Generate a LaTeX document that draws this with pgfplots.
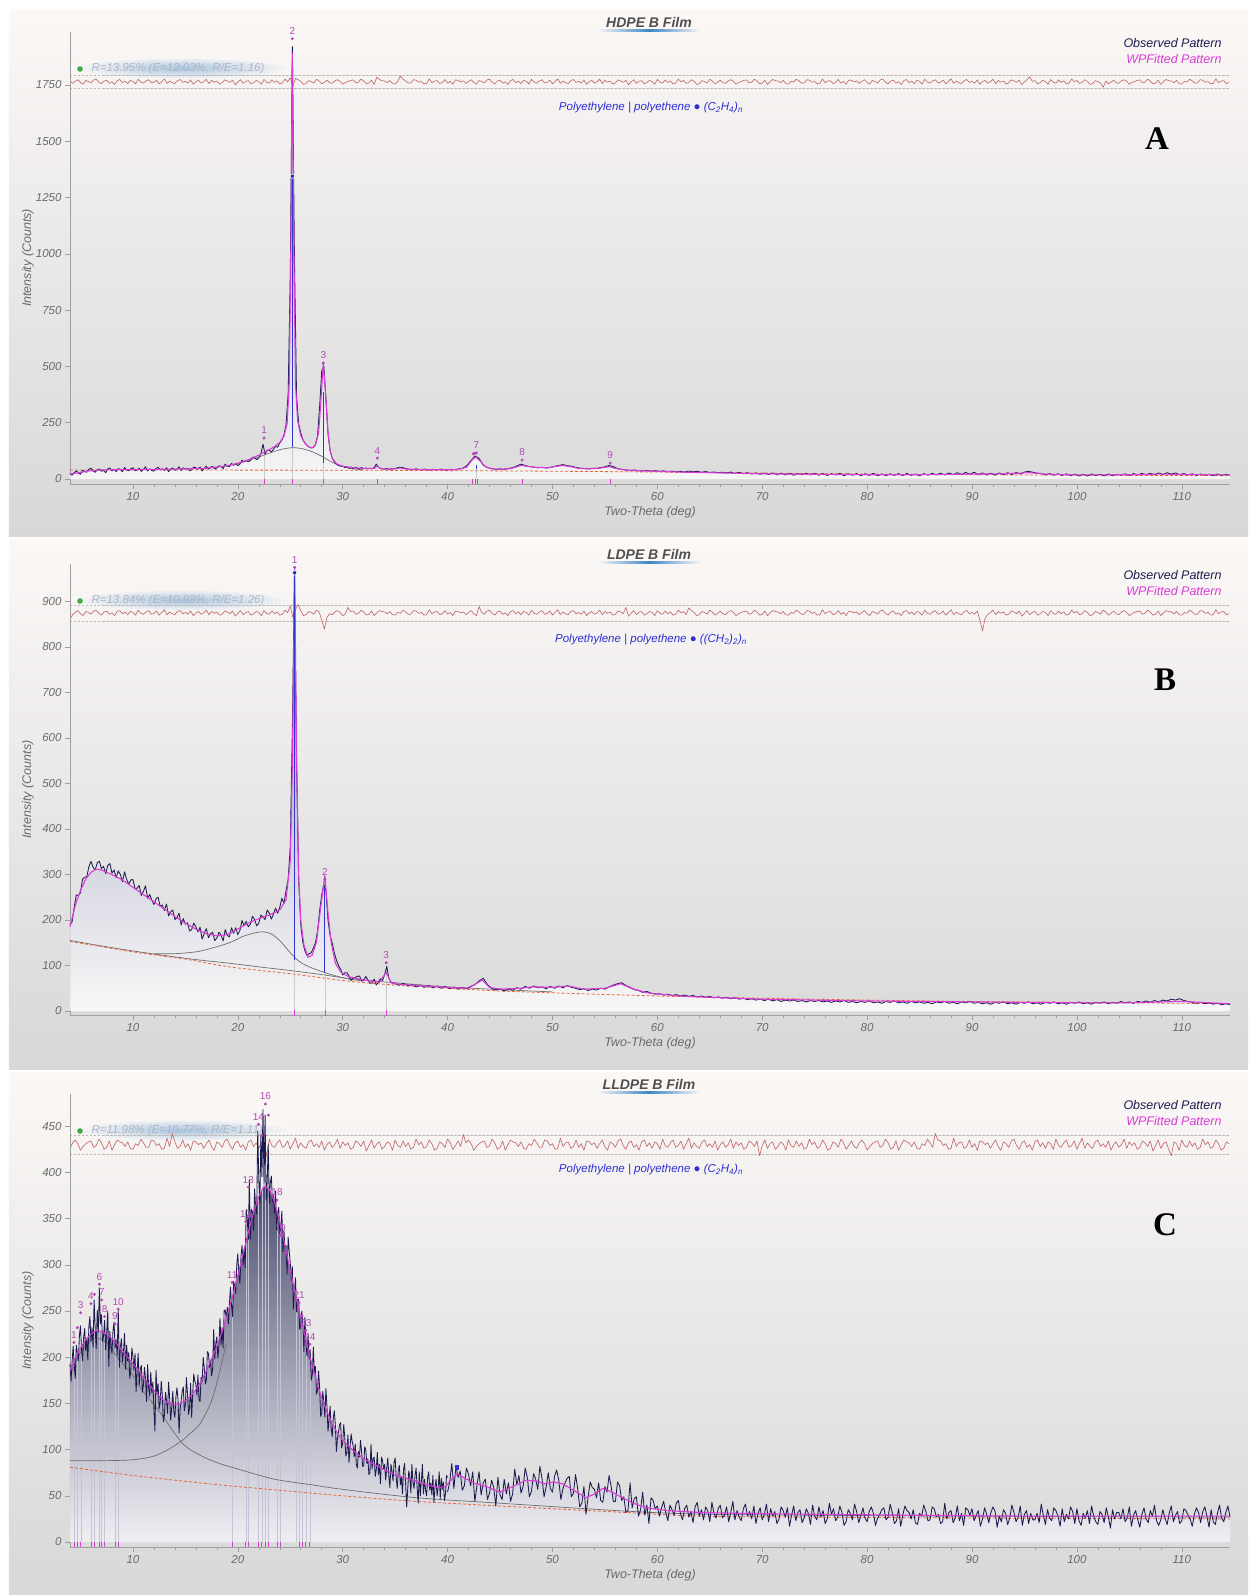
\documentclass[border=0pt]{standalone}
\usepackage{fontspec}
\setmainfont{Liberation Sans}
\newfontfamily\serifbold{Liberation Serif}
\usepackage{pgfplots}
\usepackage{pgfplotstable}
\pgfplotsset{compat=1.18}

\definecolor{obs}{HTML}{1C1B50}
\definecolor{fit}{HTML}{D93BD9}
\definecolor{resid}{HTML}{C26A6A}
\definecolor{tickgray}{HTML}{6A6A6A}
\definecolor{titlegray}{HTML}{505050}
\definecolor{phaseblue}{HTML}{2E2ED6}
\definecolor{peaklbl}{HTML}{B24AB8}
\definecolor{basel}{HTML}{E8643C}
\definecolor{comp}{HTML}{6E6E6E}
\definecolor{stickblue}{HTML}{3434D0}
\definecolor{uline}{HTML}{3E86C8}
\definecolor{glow}{HTML}{A9C6E0}
\definecolor{rtext}{HTML}{B0B5C4}
\definecolor{bgtop}{HTML}{FBF8F6}
\definecolor{bgmid}{HTML}{F0EEEC}
\definecolor{bgbot}{HTML}{D8D8D8}
\definecolor{fillA}{RGB}{140,145,185}
\definecolor{fillB}{RGB}{120,124,165}
\definecolor{fillC}{RGB}{60,64,100}
\definecolor{fillCb}{RGB}{242,241,246}
\definecolor{peakline}{RGB}{196,196,214}

\pgfplotsset{
  xrdbase/.style={
    scale only axis, width=1160pt,
    xmin=4, xmax=114.6, clip=false,
    axis lines=left,
    axis line style={-, draw=gray!75, line width=0.6pt},
    xtick={10,20,...,110}, minor x tick num=4,
    major tick length=5pt, minor tick length=3pt,
    tick style={draw=gray!75, line width=0.5pt},
    tick align=outside,
    ticklabel style={font=\fontsize{11.5}{13}\selectfont\itshape, text=tickgray},
    /pgf/number format/assume math mode=true,
    /pgf/number format/set thousands separator={},
    xlabel={Two-Theta (deg)}, ylabel={Intensity (Counts)},
    every axis x label/.style={at={(axis description cs:0.5,0)}, anchor=center, yshift=-28pt,
       font=\fontsize{12.5}{14}\selectfont\itshape, text=tickgray},
    every axis y label/.style={at={(axis description cs:0,0.5)}, xshift=-42pt, anchor=center, rotate=90,
       font=\fontsize{12.5}{14}\selectfont\itshape, text=tickgray},
  },
  resbase/.style={scale only axis, width=1160pt, xmin=4, xmax=114.6, hide axis, clip=false},
  obsline/.style={draw=obs, line width=0.85pt, line join=round},
  fitline/.style={draw=fit, line width=1.1pt, line join=round},
  compline/.style={draw=comp, line width=0.7pt, smooth},
  baseline/.style={draw=basel, line width=0.8pt, dash pattern=on 3pt off 2pt, smooth},
  resline/.style={draw=resid, line width=0.65pt, line join=round},
  resband/.style={draw=gray!55, line width=0.5pt, dash pattern=on 2.5pt off 1.5pt},
  phasetick/.style={only marks, mark=|, mark size=2.6pt, color=fit, mark options={line width=0.7pt}},
  peakdot/.style={only marks, mark=*, mark size=1.3pt, color=peaklbl, point meta=explicit symbolic,
    nodes near coords, nodes near coords style={font=\fontsize{10}{11}\selectfont, text=peaklbl, anchor=south, yshift=0.5pt}},
  peakdotonly/.style={only marks, mark=*, mark size=1.3pt, color=peaklbl},
}

\newcommand{\paneldeco}[5]{%
  \node[font=\fontsize{14}{16}\selectfont\bfseries\itshape, text=titlegray] at (579pt,10pt) {#1};
  \shade[left color=bgtop, right color=bgtop, middle color=uline] (527pt,2.2pt) rectangle (631pt,0.6pt);
  \node[anchor=east, font=\fontsize{12.5}{14}\selectfont\itshape, text=obs] at (1155pt,-11pt) {Observed Pattern};
  \node[anchor=east, font=\fontsize{12.5}{14}\selectfont\itshape, text=fit] at (1155pt,-27pt) {WPFitted Pattern};
  \shade[inner color=glow, outer color=bgtop] (112pt,-36pt) ellipse (112pt and 11pt);
  \fill[green!55!black!75] (10pt,-37pt) circle (2.8pt);
  \node[anchor=west, font=\fontsize{11.5}{13}\selectfont\itshape, text=rtext] at (18pt,-37pt) {#2};
  \node[font=\fontsize{11.5}{13}\selectfont\itshape, text=phaseblue] at (581pt,-76pt) {Polyethylene | polyethene ● #3};
  \node[font=\serifbold\fontsize{33}{36}\selectfont\bfseries] at #5 {#4};
}

% ---------- fitted patterns ----------
\pgfplotstableread[row sep=\\]{x y\\
4 22\\5 29\\6 37\\7 40\\8 41\\10 42\\12 43\\14 44\\16 46\\17 48\\18 53\\19 59\\20 70\\21 85\\22 106\\23 130\\23.6 147\\24 162\\24.4 190\\24.7 245\\24.9 420\\25.05 1000\\25.2 1890\\25.35 1000\\25.5 420\\25.7 260\\26 192\\26.4 158\\26.8 141\\27.1 138\\27.4 150\\27.7 205\\27.9 330\\28.15 515\\28.4 355\\28.6 205\\28.8 128\\29 93\\29.4 68\\30 56\\31 50\\32 47\\33 46\\33.3 58\\33.6 46\\34 44\\35 45\\35.5 49\\36 44\\37 42\\38 41\\40 41\\41 42\\41.8 52\\42.4 88\\42.7 97\\43.1 80\\43.6 55\\44.2 45\\45 43\\46 46\\47 60\\47.5 57\\48.5 51\\49.5 50\\50.5 57\\51 60\\51.8 54\\52.5 47\\53.5 45\\54.5 48\\55.4 55\\56 47\\57 40\\58 37\\60 34\\62 31\\65 28\\68 25\\70 23\\75 21\\80 19\\85 19\\90 22\\93 23\\95.5 28\\97 22\\100 18\\105 19\\108 22\\110 20\\114.6 18\\
}\fitA

\pgfplotstableread[row sep=\\]{x y\\
4 185\\4.5 232\\5 265\\5.5 290\\6 305\\6.5 312\\7 310\\8 300\\9 288\\10 272\\11 256\\12 240\\13 224\\14 208\\15 193\\16 180\\17 170\\18 165\\19 168\\20 180\\21 193\\22 203\\23 211\\24 222\\24.6 245\\25.0 330\\25.2 540\\25.42 975\\25.6 560\\25.8 300\\26.0 200\\26.3 145\\26.7 118\\27.1 123\\27.5 152\\27.9 228\\28.3 298\\28.6 215\\28.9 150\\29.3 105\\29.8 86\\30.5 76\\32 68\\33.5 63\\34.15 85\\34.6 62\\35 60\\37 56\\40 52\\42 50\\43.3 68\\44 52\\45 48\\47 50\\48 53\\50 52\\51.5 55\\53 48\\55 50\\56.5 60\\57.5 50\\59 40\\62 33\\65 30\\70 26\\75 24\\80 22\\85 21\\90 20\\95 19\\100 18\\105 18\\110 21\\114.6 16\\
}\fitB

\pgfplotstableread[row sep=\\]{x y\\
4 185\\4.4 197\\5 210\\5.5 219\\6 225\\6.5 229\\7 228\\7.5 225\\8 220\\8.5 214\\9 207\\9.5 200\\10 193\\10.5 186\\11 178\\11.5 171\\12 164\\12.5 158\\13 153\\13.5 150\\14 149\\14.5 150\\15 153\\15.5 158\\16 165\\16.5 174\\17 185\\17.5 198\\18 212\\18.5 228\\19 246\\19.5 266\\20 288\\20.5 312\\21 335\\21.5 357\\22 374\\22.5 385\\23 382\\23.5 368\\24 346\\24.5 320\\25 294\\25.5 268\\26 243\\26.5 218\\27 195\\27.5 174\\28 156\\28.5 141\\29 128\\29.5 118\\30 110\\31 99\\32 90\\33 84\\34 78\\35 73\\36 69\\37 66\\38 62\\39 59\\39.8 60\\40.4 68\\40.9 74\\41.5 70\\42.5 64\\43.7 60\\45 54\\46 59\\47.5 67\\48.5 66\\49.3 63\\50.1 65\\51 63\\52 56\\53.2 48\\54 52\\54.8 58\\55.5 55\\56.5 49\\57.7 42\\59 37\\61 34\\64 32\\68 31\\75 30\\85 29\\95 28\\105 28\\114.6 28\\
}\fitC

\begin{document}
\begin{tikzpicture}
\useasboundingbox (-70pt,32pt) rectangle (1178pt,-1563pt);
\fill[white] (-70pt,32pt) rectangle (1178pt,-1563pt);
\shade[top color=bgtop, middle color=bgmid, bottom color=bgbot] (-61pt,22pt) rectangle (1178pt,-504pt);
\shade[top color=bgtop, middle color=bgmid, bottom color=bgbot] (-61pt,-507pt) rectangle (1178pt,-1037pt);
\shade[top color=bgtop, middle color=bgmid, bottom color=bgbot] (-61pt,-1040pt) rectangle (1178pt,-1563pt);

\paneldeco{HDPE B Film}{R=13.95\% (E=12.03\%, R/E=1.16)}{(C\textsubscript{2}H\textsubscript{4})\textsubscript{n}}{A}{(1087pt,-107pt)}
\begin{scope}[yshift=-532pt]
\paneldeco{LDPE B Film}{R=13.84\% (E=10.98\%, R/E=1.26)}{((CH\textsubscript{2})\textsubscript{2})\textsubscript{n}}{B}{(1095pt,-116pt)}
\end{scope}
\begin{scope}[yshift=-1062pt]
\paneldeco{LLDPE B Film}{R=11.98\% (E=10.77\%, R/E=1.11)}{(C\textsubscript{2}H\textsubscript{4})\textsubscript{n}}{C}{(1095pt,-131pt)}
\end{scope}

% ================= residuals =================
\begin{axis}[resbase, at={(0pt,0pt)}, anchor=north west, height=452pt, ymin=-1786.2, ymax=221]
\addplot[resband] coordinates {(4,31)(114.6,31)};
\addplot[resband] coordinates {(4,-31)(114.6,-31)};
\addplot[resline] table[row sep=\\, header=false, x expr=4+0.25*\coordindex, y index=0]{
4\\-7\\2\\9\\-3\\-11\\6\\1\\-5\\8\\
12\\-2\\-9\\3\\7\\-6\\0\\-12\\5\\10\\
-4\\3\\-8\\6\\2\\-10\\11\\-1\\-6\\4\\
9\\-5\\-2\\7\\-9\\1\\13\\-7\\3\\-4\\
-8\\5\\10\\-3\\2\\-6\\8\\-11\\0\\6\\
-6\\0\\11\\-8\\6\\-2\\3\\-10\\-5\\8\\
4\\-3\\7\\-13\\-1\\9\\-7\\2\\5\\-9\\
-4\\6\\1\\-11\\10\\-2\\-6\\8\\-3\\4\\
-10\\-5\\12\\0\\18\\-20\\15\\9\\2\\-12\\
-8\\5\\1\\-6\\11\\3\\-9\\-2\\7\\-4\\
-7\\4\\9\\2\\-11\\-3\\1\\6\\8\\-5\\
-2\\12\\3\\-9\\-6\\7\\-12\\20\\10\\5\\
3\\-4\\6\\-8\\-10\\2\\25\\11\\4\\-6\\
-5\\9\\7\\-2\\1\\-9\\-7\\13\\-4\\3\\
5\\-8\\-3\\10\\-6\\2\\-11\\8\\6\\0\\
4\\-7\\2\\9\\-3\\-11\\6\\1\\-5\\8\\
12\\-2\\-9\\3\\7\\-6\\0\\-12\\5\\10\\
-4\\3\\-8\\6\\2\\-10\\11\\-1\\-6\\4\\
9\\-5\\-2\\7\\-9\\1\\13\\-7\\3\\-4\\
-8\\5\\10\\-3\\2\\-6\\8\\-11\\0\\6\\
-6\\0\\11\\-8\\6\\-2\\3\\-10\\-5\\8\\
4\\-3\\7\\-13\\-1\\9\\-7\\2\\5\\-9\\
-4\\6\\1\\-11\\10\\-2\\-6\\8\\-3\\4\\
-10\\-5\\12\\0\\6\\-7\\-3\\9\\2\\-12\\
-8\\5\\1\\-6\\11\\3\\-9\\-2\\7\\-4\\
-7\\4\\9\\2\\-11\\-3\\1\\6\\8\\-5\\
-2\\12\\3\\-9\\-6\\7\\-12\\0\\10\\5\\
3\\-4\\6\\-8\\-10\\2\\-1\\11\\4\\-6\\
-5\\9\\7\\-2\\1\\-9\\-7\\13\\-4\\3\\
5\\-8\\-3\\10\\-6\\2\\-11\\8\\6\\0\\
4\\-7\\2\\9\\-3\\-11\\6\\1\\-5\\8\\
12\\-2\\-9\\3\\7\\-6\\0\\-12\\5\\10\\
-4\\3\\-8\\6\\2\\-10\\11\\-1\\-6\\4\\
9\\-5\\-2\\7\\-9\\1\\13\\-7\\3\\-4\\
-8\\5\\10\\-3\\2\\-6\\8\\-11\\0\\6\\
-6\\0\\11\\-8\\6\\-2\\3\\-10\\-5\\8\\
4\\-3\\7\\-13\\-1\\9\\22\\2\\5\\-9\\
-4\\6\\1\\-11\\10\\-2\\-6\\8\\-3\\4\\
-10\\-5\\12\\0\\6\\-7\\-3\\9\\2\\-12\\
-8\\5\\1\\-6\\-25\\3\\-9\\-2\\7\\-4\\
-7\\4\\9\\2\\-11\\-3\\1\\6\\8\\-5\\
-2\\12\\3\\-9\\-6\\7\\-12\\0\\10\\5\\
3\\-4\\6\\-8\\-10\\2\\-1\\11\\4\\-6\\
-5\\9\\7\\-2\\1\\-9\\-7\\13\\-4\\3\\
5\\-8\\-3\\
};
\end{axis}

\begin{axis}[resbase, at={(0pt,-532pt)}, anchor=north west, height=451pt, ymin=-883.8, ymax=107.4]
\addplot[resband] coordinates {(4,17.5)(114.6,17.5)};
\addplot[resband] coordinates {(4,-17.5)(114.6,-17.5)};
\addplot[resline] table[row sep=\\, header=false, x expr=4+0.25*\coordindex, y index=0]{
-14\\-4\\1\\5\\-2\\-6\\3\\1\\-3\\4\\
6\\-1\\-5\\2\\4\\-3\\0\\-6\\3\\5\\
-2\\2\\-4\\3\\1\\-5\\6\\-1\\-3\\2\\
5\\-3\\-1\\4\\-5\\1\\7\\-4\\2\\-2\\
-4\\3\\5\\-2\\1\\-3\\4\\-6\\0\\3\\
-3\\0\\6\\-4\\3\\-1\\2\\-5\\-3\\4\\
2\\-2\\4\\-7\\-1\\5\\-4\\1\\3\\-5\\
-2\\3\\1\\-6\\5\\-1\\-3\\4\\-2\\2\\
-5\\-3\\6\\0\\15\\-10\\8\\18\\5\\-6\\
-4\\3\\1\\-3\\6\\2\\-15\\-36\\-10\\-2\\
-4\\2\\5\\1\\-6\\-2\\12\\3\\4\\-3\\
-1\\6\\2\\-5\\-3\\4\\-6\\0\\5\\3\\
2\\-2\\3\\-4\\-5\\1\\-1\\6\\2\\-3\\
-3\\5\\4\\-1\\1\\-5\\-4\\7\\-2\\2\\
3\\-4\\-2\\5\\-3\\1\\-6\\4\\3\\0\\
2\\-4\\1\\5\\-2\\-6\\14\\1\\-3\\4\\
6\\-1\\-5\\2\\4\\-3\\0\\-6\\3\\5\\
-2\\2\\-4\\3\\1\\-5\\6\\-1\\-3\\2\\
5\\-3\\-1\\4\\-5\\1\\7\\-4\\2\\-2\\
-4\\3\\5\\-2\\1\\-3\\4\\-6\\0\\3\\
-3\\0\\6\\-4\\3\\-1\\2\\-5\\-3\\4\\
2\\-2\\12\\-7\\-1\\5\\-4\\1\\3\\-5\\
-2\\3\\1\\-6\\5\\-1\\-3\\4\\-2\\2\\
-5\\-3\\6\\0\\3\\-4\\11\\5\\1\\-6\\
-4\\3\\1\\-3\\6\\2\\-5\\-1\\4\\-2\\
-4\\2\\5\\1\\-6\\-2\\1\\3\\4\\-3\\
-1\\6\\2\\-5\\-3\\4\\-6\\0\\5\\3\\
2\\-2\\3\\-4\\-5\\1\\-1\\6\\2\\-3\\
-3\\5\\4\\-1\\1\\-5\\-4\\7\\-2\\2\\
3\\-4\\-2\\5\\-3\\1\\-6\\4\\3\\0\\
2\\-4\\1\\5\\-2\\-6\\3\\1\\-3\\4\\
6\\-1\\-5\\2\\4\\-3\\0\\-6\\3\\5\\
-2\\2\\-4\\3\\1\\-5\\6\\-1\\-3\\2\\
5\\-3\\-1\\4\\-5\\1\\7\\-4\\2\\-2\\
-4\\3\\5\\-2\\1\\-3\\4\\-15\\-40\\-12\\
-3\\0\\6\\-4\\3\\-1\\2\\-5\\-3\\4\\
2\\-2\\4\\-7\\-1\\5\\-4\\1\\3\\-5\\
-2\\3\\1\\-6\\5\\-1\\-3\\4\\-2\\2\\
-5\\-3\\6\\0\\3\\-4\\-2\\5\\1\\-6\\
-4\\3\\1\\-3\\6\\2\\-5\\-1\\4\\-2\\
-4\\2\\5\\1\\-6\\-2\\1\\3\\4\\-3\\
-1\\6\\2\\-5\\-3\\4\\-6\\0\\5\\3\\
2\\-2\\3\\-4\\-5\\1\\-1\\6\\2\\-3\\
-3\\5\\4\\-1\\1\\-5\\-4\\7\\-2\\2\\
3\\-4\\-2\\
};
\end{axis}

\begin{axis}[resbase, at={(0pt,-1062pt)}, anchor=north west, height=453pt, ymin=-435.4, ymax=54.8]
\addplot[resband] coordinates {(4,10)(114.6,10)};
\addplot[resband] coordinates {(4,-10)(114.6,-10)};
\addplot[resline] table[row sep=\\, header=false, x expr=4+0.25*\coordindex, y index=0]{
-4\\2\\5\\1\\-6\\-2\\1\\3\\4\\-3\\
-1\\6\\2\\-5\\-3\\4\\-6\\0\\5\\3\\
2\\-2\\3\\-4\\-5\\1\\-1\\6\\2\\-3\\
-3\\5\\4\\-1\\1\\-5\\-4\\7\\-2\\12\\
3\\-4\\-2\\5\\-3\\1\\-6\\4\\3\\0\\
2\\-4\\1\\5\\-2\\-6\\3\\1\\-3\\4\\
6\\-1\\-5\\2\\4\\-3\\0\\-6\\3\\5\\
-2\\2\\-4\\3\\1\\-12\\6\\-1\\-3\\2\\
5\\-3\\-1\\4\\-5\\1\\7\\-4\\2\\-2\\
-4\\3\\5\\-2\\1\\-3\\4\\-6\\0\\3\\
-3\\0\\6\\-4\\3\\-1\\2\\-5\\-3\\4\\
2\\-2\\4\\-7\\-1\\5\\-4\\1\\3\\-5\\
-2\\3\\1\\-6\\5\\-1\\-3\\4\\-2\\2\\
-5\\-3\\6\\0\\3\\-4\\-2\\5\\1\\-6\\
-4\\3\\1\\-3\\6\\2\\-5\\-1\\4\\-2\\
11\\2\\5\\1\\-6\\-2\\1\\3\\4\\-3\\
-1\\6\\2\\-5\\-3\\4\\-6\\0\\5\\3\\
2\\-2\\3\\-4\\-5\\1\\-1\\6\\2\\-3\\
-3\\5\\4\\-1\\1\\-5\\-4\\7\\-2\\2\\
3\\-4\\-2\\5\\-3\\1\\-6\\4\\3\\0\\
2\\-4\\1\\5\\-2\\-6\\3\\1\\-3\\4\\
6\\-1\\-5\\2\\4\\-3\\0\\-6\\3\\5\\
-2\\2\\-4\\3\\1\\-5\\6\\-1\\-3\\2\\
5\\-3\\-1\\4\\-5\\1\\7\\-4\\2\\-2\\
-4\\3\\5\\-2\\1\\-3\\4\\-6\\0\\3\\
-3\\0\\6\\-4\\3\\-1\\2\\-5\\-3\\4\\
2\\-2\\4\\-12\\-1\\5\\-4\\1\\3\\-5\\
-2\\3\\1\\-6\\5\\-1\\-3\\4\\-2\\2\\
-5\\-3\\6\\0\\3\\-4\\-2\\5\\1\\-6\\
-4\\3\\1\\-3\\6\\2\\-5\\-1\\4\\-2\\
-4\\2\\5\\1\\-6\\-2\\1\\3\\4\\-3\\
-1\\6\\2\\-5\\-3\\4\\-6\\0\\5\\3\\
2\\-2\\3\\-4\\-5\\1\\-1\\6\\2\\-3\\
12\\5\\4\\-1\\1\\-5\\-4\\7\\-2\\2\\
3\\-4\\-2\\5\\-3\\1\\-6\\4\\3\\0\\
2\\-4\\1\\5\\-2\\-6\\3\\1\\-3\\4\\
6\\-1\\-5\\2\\4\\-3\\0\\-6\\3\\5\\
-2\\2\\-4\\3\\1\\-5\\6\\-1\\-3\\2\\
5\\-3\\-1\\4\\-5\\1\\7\\-4\\2\\-2\\
-4\\3\\5\\-2\\1\\-3\\4\\-6\\0\\3\\
-3\\0\\6\\-4\\3\\-1\\2\\-5\\-3\\4\\
2\\-2\\4\\-7\\-1\\5\\-4\\1\\3\\-5\\
-12\\3\\1\\-6\\5\\-1\\-3\\4\\-2\\2\\
-5\\-3\\6\\0\\3\\-4\\-2\\5\\1\\-6\\
-4\\3\\1\\
};
\end{axis}

% ================= Panel A =================
\begin{axis}[xrdbase, at={(0pt,0pt)}, anchor=north west, height=452pt,
  ymin=-22.2, ymax=1985, ytick={0,250,...,1750}]
\addplot[draw=none, top color=fillA, bottom color=white, fill opacity=0.75] table[x=x,y=y]{\fitA} \closedcycle;
\addplot[draw=gray!40, line width=0.4pt] coordinates {(25.2,0)(25.2,140)};
\addplot[draw=gray!40, line width=0.4pt] coordinates {(28.15,0)(28.15,71)};
\addplot[draw=gray!40, line width=0.4pt] coordinates {(22.5,0)(22.5,120)};
\addplot[draw=gray!40, line width=0.4pt] coordinates {(42.7,0)(42.7,45)};
\addplot[compline] coordinates {(16,44)(18,52)(20,68)(22,98)(23.5,123)(24.5,135)(25.2,139)(26,136)(27,123)(28,101)(29,74)(30,55)(31,45)(32,41)};
\addplot[baseline] coordinates {(4,40)(30,39)(45,36)(60,31)(80,22)(100,17)(114.6,15)};
\addplot[obsline] table[row sep=\\, header=false, x expr=4+0.2*\coordindex, y index=0]{
24\\17\\28\\36\\27\\21\\38\\35\\30\\43\\
48\\35\\30\\41\\44\\34\\39\\28\\45\\49\\
36\\43\\33\\46\\43\\32\\51\\40\\37\\46\\
50\\37\\40\\48\\34\\43\\54\\36\\45\\38\\
35\\47\\52\\40\\45\\38\\50\\33\\44\\49\\
39\\44\\54\\38\\50\\43\\48\\37\\41\\53\\
50\\44\\53\\36\\47\\57\\43\\52\\56\\44\\
49\\59\\56\\46\\66\\57\\55\\69\\61\\70\\
59\\66\\84\\76\\84\\76\\82\\97\\95\\86\\
94\\111\\155\\110\\129\\127\\121\\132\\145\\141\\
160\\172\\195\\240\\380\\900\\1920\\980\\370\\245\\
205\\175\\160\\150\\142\\138\\140\\152\\190\\320\\
480\\500\\360\\200\\125\\92\\76\\66\\60\\57\\
58\\50\\56\\47\\54\\45\\52\\49\\44\\51\\
46\\49\\45\\48\\47\\50\\66\\55\\47\\45\\
44\\47\\43\\46\\44\\47\\
};
\addplot[obsline] table[row sep=\\, header=false, x expr=35+0.4*\coordindex, y index=0]{
47\\52\\50\\44\\42\\45\\41\\44\\40\\43\\
41\\44\\40\\43\\41\\44\\47\\58\\80\\102\\
92\\62\\50\\46\\43\\45\\42\\47\\50\\58\\
66\\60\\55\\53\\50\\52\\49\\51\\56\\60\\
64\\59\\57\\52\\48\\47\\45\\48\\47\\51\\
54\\60\\55\\46\\42\\40\\38\\40\\37\\36\\
38\\35\\37\\34\\36\\33\\35\\32\\34\\31\\
35\\32\\34\\30\\33\\29\\31\\28\\30\\27\\
31\\24\\29\\23\\28\\22\\27\\21\\26\\20\\
27\\19\\26\\18\\25\\17\\24\\19\\26\\18\\
25\\17\\24\\16\\23\\18\\25\\15\\23\\17\\
24\\15\\23\\16\\25\\14\\22\\15\\23\\16\\
24\\15\\25\\16\\22\\14\\24\\17\\25\\18\\
26\\18\\27\\19\\28\\20\\29\\21\\30\\19\\
27\\18\\26\\17\\27\\19\\28\\20\\29\\22\\
31\\34\\30\\26\\25\\18\\24\\17\\23\\16\\
23\\15\\22\\14\\21\\13\\22\\16\\21\\14\\
22\\15\\21\\17\\23\\16\\24\\18\\25\\19\\
26\\19\\27\\20\\28\\22\\27\\19\\24\\18\\
23\\16\\22\\17\\21\\15\\22\\16\\21\\17\\
};
\addplot[fitline] table[x=x,y=y]{\fitA};
\addplot[draw=stickblue, line width=1.1pt] coordinates {(25.2,140)(25.2,1345)};
\addplot[draw=stickblue, line width=1.1pt] coordinates {(28.15,71)(28.15,387)};
\addplot[draw=stickblue, line width=0.8pt] coordinates {(42.7,45)(42.7,62)};
\addplot[only marks, mark=*, mark size=2.2pt, mark options={fill=stickblue!80!black, draw=white, line width=0.6pt}] coordinates {(25.2,1345)};
\addplot[phasetick] coordinates {(22.5,-11)(25.2,-11)(28.15,-11)(33.3,-11)(42.4,-11)(42.6,-11)(42.8,-11)(47.1,-11)(55.5,-11)};
\addplot[peakdotonly] coordinates {(42.45,112)(42.6,114)};
\addplot[peakdot] coordinates {(22.5,182)[1] (25.2,1955)[2] (28.15,515)[3] (33.3,93)[4] (42.75,116)[7] (47.1,84)[8] (55.5,71)[9]};
\end{axis}

% ================= Panel B =================
\begin{axis}[xrdbase, at={(0pt,-532pt)}, anchor=north west, height=451pt,
  ymin=-8.8, ymax=982.4, ytick={0,100,...,900}]
\addplot[draw=none, top color=fillB, bottom color=white, fill opacity=0.8] table[x=x,y=y]{\fitB} \closedcycle;
\addplot[draw=gray!40, line width=0.4pt] coordinates {(25.42,0)(25.42,112)};
\addplot[draw=gray!40, line width=0.4pt] coordinates {(28.3,0)(28.3,84)};
\addplot[draw=gray!40, line width=0.4pt] coordinates {(34.15,0)(34.15,100)};
\addplot[compline] coordinates {(4,155)(7,143)(10,132)(13,122)(16,113)(19.2,105)(22,97)(25,89)(28,80)(30.4,72)(33,66)(36,60)(40,53)(45,47)(50,42)};
\addplot[compline] coordinates {(12,126)(14,126)(16,130)(17.5,138)(19.2,150)(20.5,164)(21.5,171)(22.4,174)(23.3,168)(24.2,150)(25,128)(25.8,110)(26.8,97)(28.5,83)(30.4,71)(32,66)};
\addplot[baseline] coordinates {(4,153)(10,130)(15,114)(19.2,97)(25,82)(30.4,66)(35,57)(40,50)(45,44)(50,40)(60,33)(70,28)(80,24)(90,21)(100,19)(114.6,16)};
\addplot[obsline] table[row sep=\\, header=false, x expr=4+0.2*\coordindex, y index=0]{
190\\196\\228\\255\\254\\260\\290\\294\\295\\317\\
329\\316\\310\\326\\329\\313\\318\\302\\320\\324\\
303\\310\\293\\308\\300\\284\\306\\289\\279\\288\\
289\\269\\270\\276\\254\\263\\275\\248\\256\\244\\
234\\247\\250\\230\\233\\221\\235\\209\\218\\222\\
201\\205\\215\\189\\203\\191\\194\\176\\179\\193\\
185\\174\\184\\158\\171\\181\\161\\170\\173\\155\\
160\\173\\167\\154\\179\\166\\163\\183\\171\\183\\
168\\177\\199\\188\\197\\185\\191\\208\\201\\187\\
193\\211\\207\\201\\222\\215\\202\\213\\226\\215\\
228\\248\\236\\265\\290\\360\\620\\965\\560\\290\\
190\\150\\132\\122\\126\\128\\138\\150\\175\\220\\
255\\278\\265\\200\\165\\150\\128\\112\\100\\92\\
79\\84\\84\\77\\67\\72\\74\\76\\77\\66\\
67\\76\\69\\61\\62\\70\\57\\64\\71\\67\\
80\\98\\72\\64\\60\\62\\
};
\addplot[obsline] table[row sep=\\, header=false, x expr=35+0.4*\coordindex, y index=0]{
60\\57\\61\\55\\58\\53\\57\\52\\56\\51\\
55\\50\\54\\49\\53\\48\\52\\49\\54\\58\\
66\\72\\58\\50\\46\\49\\44\\48\\46\\51\\
48\\54\\50\\55\\51\\53\\49\\54\\50\\55\\
51\\56\\52\\50\\47\\49\\45\\48\\46\\50\\
48\\53\\57\\60\\62\\56\\52\\47\\45\\41\\
43\\39\\37\\38\\35\\37\\34\\36\\33\\35\\
32\\34\\31\\33\\30\\32\\29\\31\\28\\30\\
27\\29\\26\\28\\25\\27\\24\\26\\23\\26\\
22\\25\\21\\24\\22\\24\\21\\23\\20\\23\\
21\\23\\20\\22\\19\\22\\20\\23\\19\\21\\
18\\21\\19\\22\\18\\20\\17\\21\\19\\22\\
18\\20\\17\\21\\18\\20\\17\\19\\16\\20\\
18\\21\\17\\19\\16\\20\\18\\21\\17\\19\\
16\\18\\15\\19\\17\\20\\16\\18\\15\\19\\
17\\20\\16\\18\\15\\19\\17\\20\\16\\18\\
15\\19\\17\\20\\16\\18\\15\\19\\17\\20\\
16\\19\\17\\21\\18\\20\\17\\21\\19\\22\\
19\\23\\20\\24\\22\\26\\24\\27\\23\\21\\
19\\17\\19\\16\\18\\15\\17\\14\\16\\14\\
};
\addplot[fitline] table[x=x,y=y]{\fitB};
\addplot[draw=stickblue, line width=1.1pt] coordinates {(25.42,112)(25.42,963)};
\addplot[draw=stickblue, line width=1.1pt] coordinates {(28.3,84)(28.3,272)};
\addplot[only marks, mark=*, mark size=2.2pt, mark options={fill=stickblue!80!black, draw=white, line width=0.6pt}] coordinates {(25.42,963)};
\addplot[phasetick] coordinates {(25.42,-4.4)(28.3,-4.4)(34.15,-4.4)};
\addplot[peakdot] coordinates {(25.42,975)[1] (28.3,290)[2] (34.15,106)[3]};
\end{axis}

% ================= Panel C =================
\begin{axis}[xrdbase, at={(0pt,-1062pt)}, anchor=north west, height=453pt,
  ymin=-5.4, ymax=484.8, ytick={0,50,...,450}]
\addplot[draw=none, top color=fillC, bottom color=fillCb, fill opacity=0.9] table[x=x,y=y]{\fitC} \closedcycle;
\addplot[ycomb, draw=peakline, line width=0.35pt] coordinates {(4.38,198)(4.70,205)(5.02,212)(6.0,226)(6.32,228)(6.8,229)(7.02,228)(7.30,226)(8.29,216)(8.6,213)(19.46,264)(20.76,324)(21.0,335)(21.97,373)(22.29,381)(22.63,385)(22.92,383)(23.74,358)(24.06,343)(25.55,265)(25.84,251)(26.12,237)(26.48,219)(26.86,201)};
\addplot[compline] coordinates {(4,180)(5,205)(6,218)(6.5,221)(7.5,216)(8.5,200)(10,180)(10.7,167)(12.6,140)(14.7,107)(16.4,94)(18,86)(20,79)(23.5,68)(27,62)(30,57)(37,48)(45,42)(57.7,33)(65,30)(75,29)(90,28)(114.6,27)};
\addplot[compline] coordinates {(4,88)(7,88)(10,89)(12,93)(13.5,101)(14.7,110)(15.5,118)(16.4,128)(17.4,150)(18,172)(18.6,200)(18.9,215)};
\addplot[baseline] coordinates {(4,81)(10,72)(16.4,64)(20,60)(25,55)(30,50)(37,44)(45,39)(50,36)(57,32)(64,28)(75,27)(90,26)(114.6,25)};
\addplot[obsline] table[row sep=\\, header=false, x expr=4+0.1*\coordindex, y index=0]{
193\\174\\195\\212\\191\\177\\213\\205\\196\\224\\
234\\208\\196\\221\\231\\207\\220\\197\\233\\244\\
217\\232\\211\\262\\232\\209\\251\\227\\275\\236\\
246\\217\\223\\240\\208\\227\\250\\190\\228\\213\\
204\\229\\238\\210\\219\\202\\252\\189\\210\\220\\
195\\206\\226\\187\\213\\196\\205\\177\\186\\210\\
201\\186\\204\\163\\185\\204\\170\\187\\191\\162\\
170\\189\\177\\152\\192\\167\\158\\184\\161\\173\\
144\\120\\186\\160\\171\\144\\151\\174\\159\\130\\
137\\162\\154\\139\\173\\156\\132\\146\\163\\141\\
135\\157\\167\\154\\118\\144\\153\\163\\168\\142\\
149\\178\\161\\138\\145\\172\\135\\161\\182\\174\\
171\\159\\181\\154\\152\\178\\174\\200\\189\\171\\
175\\206\\204\\189\\197\\180\\187\\230\\198\\215\\
222\\199\\212\\242\\213\\232\\210\\251\\251\\242\\
254\\236\\258\\276\\256\\244\\282\\277\\269\\300\\
312\\289\\280\\308\\321\\300\\317\\297\\360\\350\\
327\\392\\328\\360\\357\\337\\382\\362\\355\\445\\
392\\366\\440\\395\\468\\387\\462\\370\\389\\430\\
366\\389\\396\\368\\375\\356\\380\\337\\355\\362\\
334\\341\\358\\314\\337\\316\\321\\290\\330\\315\\
302\\283\\298\\252\\271\\286\\249\\262\\263\\230\\
235\\250\\235\\206\\243\\214\\201\\225\\198\\208\\
175\\181\\211\\182\\190\\160\\164\\185\\167\\136\\
140\\163\\152\\135\\166\\147\\120\\132\\147\\123\\
114\\134\\142\\126\\98\\112\\119\\127\\129\\102\\
107\\127\\113\\93\\97\\116\\86\\103\\117\\109\\
104\\92\\106\\84\\80\\98\\92\\110\\98\\82\\
82\\103\\100\\85\\90\\73\\75\\106\\79\\90\\
92\\71\\78\\97\\73\\84\\63\\92\\88\\79\\
84\\67\\80\\91\\71\\59\\84\\77\\66\\86\\
91\\70\\58\\77\\83\\62\\71\\52\\78\\85\\
63\\38\\57\\77\\71\\53\\84\\65\\58\\72\\
80\\58\\42\\76\\50\\66\\84\\52\\68\\56\\
50\\70\\76\\56\\64\\51\\72\\43\\59\\68\\
50\\59\\76\\47\\69\\57\\65\\45\\52\\72\\
70\\
};
\addplot[obsline] table[row sep=\\, header=false, x expr=40+0.2*\coordindex, y index=0]{
54\\65\\85\\58\\82\\70\\77\\56\\61\\80\\
73\\61\\76\\44\\61\\76\\51\\64\\68\\46\\
53\\67\\59\\39\\70\\51\\46\\68\\52\\64\\
44\\52\\79\\62\\72\\53\\60\\80\\70\\49\\
55\\74\\68\\57\\82\\69\\49\\60\\75\\58\\
54\\71\\78\\67\\46\\58\\64\\69\\71\\49\\
53\\73\\58\\38\\42\\60\\30\\49\\65\\59\\
57\\48\\64\\45\\43\\60\\54\\72\\60\\44\\
44\\65\\61\\45\\49\\32\\34\\64\\37\\47\\
49\\28\\35\\54\\29\\40\\20\\48\\45\\36\\
39\\28\\37\\44\\32\\23\\40\\35\\29\\42\\
45\\31\\24\\36\\40\\27\\33\\21\\38\\43\\
28\\35\\24\\38\\34\\22\\43\\31\\26\\36\\
40\\26\\29\\38\\22\\32\\44\\24\\34\\27\\
23\\36\\41\\28\\33\\25\\39\\20\\31\\37\\
24\\30\\41\\22\\36\\28\\33\\20\\25\\38\\
34\\27\\37\\17\\29\\39\\23\\32\\35\\21\\
26\\36\\31\\19\\40\\28\\24\\38\\27\\34\\
20\\25\\42\\30\\36\\23\\27\\39\\32\\18\\
22\\35\\31\\24\\41\\33\\21\\28\\37\\26\\
22\\33\\38\\31\\18\\26\\30\\35\\37\\24\\
27\\41\\32\\20\\23\\36\\17\\29\\39\\34\\
32\\25\\35\\21\\19\\31\\28\\40\\33\\23\\
24\\38\\36\\27\\30\\20\\22\\42\\25\\32\\
34\\21\\26\\39\\23\\31\\18\\37\\35\\29\\
36\\23\\29\\34\\17\\25\\37\\30\\21\\32\\
38\\33\\16\\28\\22\\35\\31\\19\\26\\40\\
32\\22\\27\\39\\18\\30\\34\\20\\31\\24\\
24\\31\\21\\41\\29\\19\\35\\26\\23\\37\\
34\\28\\17\\36\\22\\30\\25\\38\\33\\20\\
36\\23\\18\\31\\26\\34\\20\\39\\28\\22\\
19\\33\\30\\21\\37\\27\\15\\35\\25\\32\\
32\\25\\36\\22\\26\\38\\17\\29\\34\\24\\
16\\30\\37\\25\\21\\34\\28\\40\\23\\18\\
24\\35\\26\\19\\31\\39\\22\\29\\33\\20\\
23\\36\\34\\29\\25\\17\\30\\37\\32\\21\\
33\\38\\28\\16\\35\\22\\19\\31\\40\\26\\
22\\32\\39\\27\\
};
\addplot[fitline] table[x=x,y=y]{\fitC};
\addplot[only marks, mark=square*, mark size=1.6pt, color=stickblue] coordinates {(40.9,81)};
\addplot[phasetick] coordinates {(4.38,-2.7)(4.70,-2.7)(5.02,-2.7)(6.0,-2.7)(6.32,-2.7)(6.8,-2.7)(7.02,-2.7)(7.30,-2.7)(8.29,-2.7)(8.6,-2.7)(19.46,-2.7)(20.76,-2.7)(21.0,-2.7)(21.97,-2.7)(22.29,-2.7)(22.63,-2.7)(22.92,-2.7)(23.74,-2.7)(24.06,-2.7)(25.84,-2.7)(26.12,-2.7)(26.48,-2.7)(26.86,-2.7)};
\addplot[peakdotonly] coordinates {(4.70,232)(6.32,268)(22.29,440)(22.92,462)(25.55,262)(26.12,245)};
\addplot[peakdot] coordinates {(4.38,216)[1] (5.02,248)[3] (6.0,258)[4] (6.8,279)[6] (7.02,262)[7] (7.30,244)[8] (8.29,236)[9] (8.6,252)[10] (19.46,281)[11] (20.76,347)[12] (21.0,384)[13] (21.97,452)[14] (22.63,474)[16] (23.74,370)[18] (24.06,332)[19] (25.84,259)[21] (26.48,229)[23] (26.86,214)[24]};
\end{axis}
\end{tikzpicture}
\end{document}
